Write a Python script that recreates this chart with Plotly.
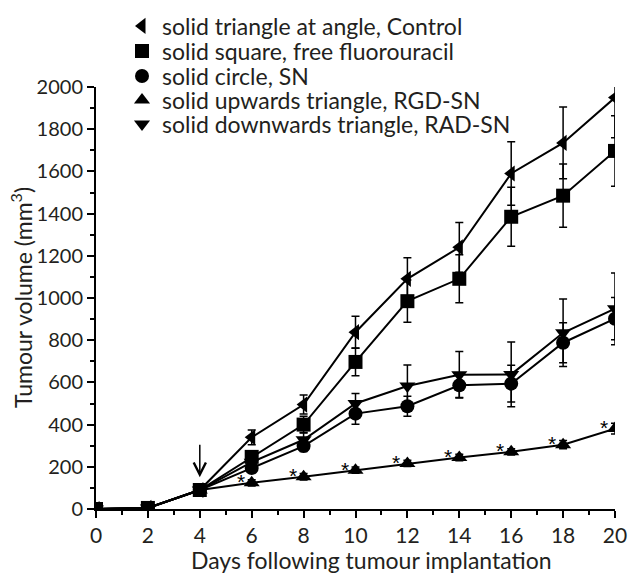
import plotly.graph_objects as go

days = [0, 2, 4, 6, 8, 10, 12, 14, 16, 18, 20]

control = [0, 5, 90, 340, 495, 838, 1091, 1240, 1590, 1735, 1950]
control_err = [0, 0, 0, 35, 45, 75, 100, 118, 150, 170, 190]

free_fu = [0, 5, 90, 247, 400, 697, 985, 1091, 1385, 1485, 1697]
free_fu_err = [0, 0, 0, 25, 40, 65, 100, 114, 140, 150, 167]

sn = [0, 5, 90, 194, 298, 452, 487, 586, 594, 788, 902]
sn_err = [0, 0, 0, 20, 25, 50, 47, 58, 87, 95, 100]

rgd_sn = [0, 5, 90, 124, 153, 184, 216, 244, 271, 305, 381]
rgd_sn_err = [0, 0, 0, 15, 15, 15, 15, 15, 15, 20, 25]

rad_sn = [0, 5, 90, 222, 328, 500, 583, 636, 638, 835, 949]
rad_sn_err = [0, 0, 0, 20, 35, 47, 100, 110, 153, 160, 170]

series = [
    ("solid triangle at angle, Control", control, control_err, "triangle-left"),
    ("solid square, free fluorouracil", free_fu, free_fu_err, "square"),
    ("solid circle, SN", sn, sn_err, "circle"),
    ("solid upwards triangle, RGD-SN", rgd_sn, rgd_sn_err, "triangle-up"),
    ("solid downwards triangle, RAD-SN", rad_sn, rad_sn_err, "triangle-down"),
]

star_days = days[3:]
star_vals = rgd_sn[3:]

FONT = "Lato"
TEXT = "#231f20"
W, H = 628, 574
ML, MR, MT, MB = 96, 13, 87, 65
PW, PH = W - ML - MR, H - MT - MB
LEGEND_ROWS_PX = [26, 51, 76, 100, 124]

fig = go.Figure()

for name, vals, errs, sym in series:
    fig.add_trace(go.Scatter(
        x=days, y=vals, mode="lines+markers", showlegend=False,
        line=dict(color="black", width=2),
        marker=dict(symbol=sym, size=14, color="black"),
        error_y=dict(type="data", array=errs, visible=True, color="black",
                     thickness=1.5, width=4),
    ))

legend_layout = {}
for i, (name, vals, errs, sym) in enumerate(series):
    key = "legend" if i == 0 else f"legend{i + 1}"
    fig.add_trace(go.Scatter(
        x=[None], y=[None], mode="markers", name=name, legend=key,
        marker=dict(symbol=sym, size=14, color="black"),
    ))
    legend_layout[key] = dict(
        x=(122 - ML) / PW, xanchor="left",
        y=(H - MB - LEGEND_ROWS_PX[i]) / PH, yanchor="middle",
        font=dict(size=23, family=FONT, color=TEXT),
        bgcolor="rgba(0,0,0,0)", borderwidth=0, itemwidth=30,
    )

for d, v in zip(star_days, star_vals):
    fig.add_annotation(x=d, y=v, text="*", showarrow=False, xshift=-11, yshift=1,
                       font=dict(size=21, color="black", family="Liberation Sans"))

fig.add_annotation(x=4, y=150, ax=4, ay=312, axref="x", ayref="y", xref="x", yref="y",
                   showarrow=True, arrowhead=5, arrowsize=1.6, arrowwidth=1.5,
                   arrowcolor="black", text="")

fig.add_annotation(text="Days following tumour implantation", xref="paper", yref="paper",
                   x=(371 - ML) / PW, y=(H - MB - 560) / PH, xanchor="center", yanchor="middle",
                   showarrow=False, font=dict(size=23, family=FONT, color=TEXT))

fig.add_annotation(text="Tumour volume (mm<sup>3</sup>)", xref="paper", yref="paper",
                   x=(21 - ML) / PW, y=(H - MB - 298) / PH, xanchor="center", yanchor="middle",
                   textangle=-90, showarrow=False, font=dict(size=23, family=FONT, color=TEXT))

fig.update_layout(
    width=W, height=H,
    margin=dict(l=ML, r=MR, t=MT, b=MB, autoexpand=False),
    paper_bgcolor="white", plot_bgcolor="white",
    font=dict(family=FONT, size=20, color=TEXT),
    **legend_layout,
    xaxis=dict(range=[0, 20], tickvals=[0, 2, 4, 6, 8, 10, 12, 14, 16, 18, 20],
               showgrid=False, zeroline=False, showline=True, linecolor="black", linewidth=2,
               ticks="outside", ticklen=7, tickwidth=2, tickcolor="black",
               minor=dict(dtick=1, ticks="outside", ticklen=4, tickwidth=2, tickcolor="black", showgrid=False),
               tickfont=dict(size=21)),
    yaxis=dict(range=[0, 2000], dtick=200,
               showgrid=False, zeroline=False, showline=True, linecolor="black", linewidth=2,
               ticks="outside", ticklen=7, tickwidth=2, tickcolor="black",
               minor=dict(dtick=100, ticks="outside", ticklen=4, tickwidth=2, tickcolor="black", showgrid=False),
               tickfont=dict(size=20)),
)

fig.write_html("out.html", config={"displayModeBar": False},
               post_script="document.body.style.margin='0';")
